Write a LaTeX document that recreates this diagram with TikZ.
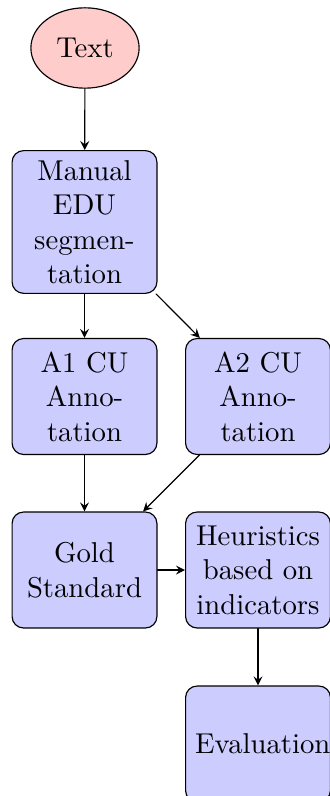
\documentclass[tikz,border=0pt]{standalone}
\usepackage{tikz}
\usetikzlibrary{arrows,shapes.geometric}
\hyphenation{Anno-tation segmen-tation}

\begin{document}
\begin{tikzpicture}[x=0.3484pt, y=-0.3484pt, line join=round, line cap=round, >=stealth,
	block/.style={rectangle, draw, fill=blue!20, text width=43.8pt, align=center, rounded corners, minimum height=40.4pt},
	cloud/.style={ellipse, draw, fill=red!20, minimum height=28pt}]
			\useasboundingbox (0,0) rectangle (330,796);
			% nodes
			\node[cloud] (text) at (85,48) {Text};
			\node[block] (manual) at (84.5,222) {Manual EDU segmentation};
			\node[block] (aone) at (84.5,396.5) {A1 CU Annotation};
			\node[block] (atwo) at (258,396.5) {A2 CU Annotation};
			\node[block] (gold) at (84.5,570) {Gold Standard};
			\node[block] (heur) at (258,570) {Heuristics based on indicators};
			\node[block] (eval) at (258,744) {Evaluation};
			% arrows
			\draw[->] (text) -- (manual);
			\draw[->] (manual) -- (aone);
			\draw[->] (manual) -- (atwo);
			\draw[->] (aone) -- (gold);
			\draw[->] (atwo) -- (gold);
			\draw[->] (gold) -- (heur);
			\draw[->] (heur) -- (eval);
		\end{tikzpicture}
\end{document}
